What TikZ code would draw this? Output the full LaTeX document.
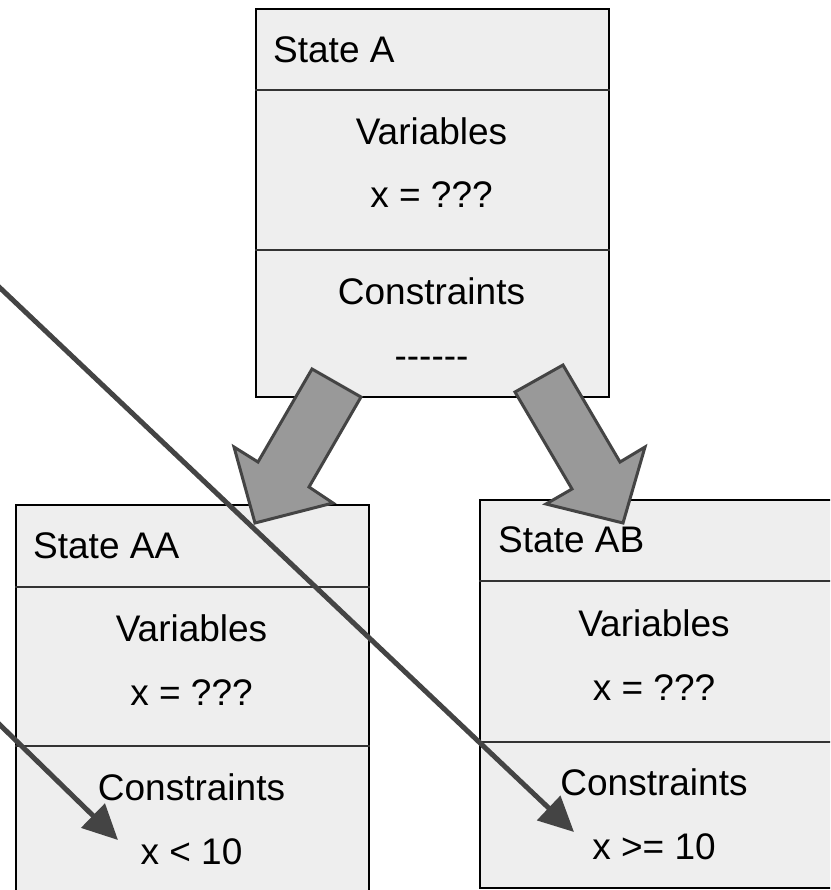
\documentclass[tikz,border=0pt]{standalone}
\usepackage{fontspec}
\setmainfont{Liberation Sans}[Ligatures=TeXOff]
\usetikzlibrary{arrows.meta}
\definecolor{boxfill}{HTML}{EEEEEE}
\definecolor{arrowfill}{HTML}{999999}
\definecolor{darkline}{HTML}{444444}
\definecolor{divline}{HTML}{333333}
\begin{document}
\begin{tikzpicture}[x=1pt,y=-1pt,
  statebox/.style={draw=black, line width=2pt, fill=boxfill, anchor=north west,
    minimum width=353pt, minimum height=388pt, inner sep=0pt},
  divider/.style={draw=divline, line width=2pt},
  lbl/.style={font=\fontsize{37pt}{44pt}\selectfont, inner sep=0pt, text=black},
  bigarrow/.style={draw=darkline, fill=arrowfill, line width=3pt, line join=miter},
  pointer/.style={draw=darkline, line width=5pt,
    -{Triangle[length=35pt,width=33pt]}, darkline}]
\useasboundingbox (0,0) rectangle (830,890);
\clip (0,0) rectangle (830,890);

% State A
\node[statebox] (A) at (255,8) {};
\draw[divider] ([yshift=-82pt]A.north west) -- ([yshift=-82pt]A.north east);
\draw[divider] ([yshift=-242pt]A.north west) -- ([yshift=-242pt]A.north east);
\node[lbl, anchor=base west] (At) at (273,63) {State A};
\node[lbl, anchor=base] (Av) at (431.5,145) {Variables};
\node[lbl, anchor=base] (Ax) at (431.5,208) {x = ???};
\node[lbl, anchor=base] (Ac) at (431.5,304) {Constraints};
\node[lbl, anchor=base] (Ak) at (431.5,368) {------};

% State AA
\node[statebox] (AA) at (15,504) {};
\draw[divider] ([yshift=-83pt]AA.north west) -- ([yshift=-83pt]AA.north east);
\draw[divider] ([yshift=-242pt]AA.north west) -- ([yshift=-242pt]AA.north east);
\node[lbl, anchor=base west] (AAt) at (33,558) {State AA};
\node[lbl, anchor=base] (AAv) at (191.5,641) {Variables};
\node[lbl, anchor=base] (AAx) at (191.5,705) {x = ???};
\node[lbl, anchor=base] (AAc) at (191.5,800) {Constraints};
\node[lbl, anchor=base] (AAk) at (191.5,864) {x < 10};

% State AB
\node[statebox] (AB) at (479,499) {};
\draw[divider] ([yshift=-82pt]AB.north west) -- ([yshift=-82pt]AB.north east);
\draw[divider] ([yshift=-243pt]AB.north west) -- ([yshift=-243pt]AB.north east);
\node[lbl, anchor=base west] (ABt) at (498,552) {State AB};
\node[lbl, anchor=base] (ABv) at (654,636) {Variables};
\node[lbl, anchor=base] (ABx) at (654,700) {x = ???};
\node[lbl, anchor=base] (ABc) at (654,795) {Constraints};
\node[lbl, anchor=base] (ABk) at (654,859) {x >= 10};

% thick arrows
\draw[bigarrow] (312,369) -- (361,397) -- (309,487) -- (333,503) -- (255,523) -- (234,447) -- (258,462) -- cycle;
\draw[bigarrow] (515,392) -- (563,365) -- (620,462) -- (645,447) -- (623,523) -- (546,504) -- (572,489) -- cycle;

% thin pointers
\coordinate (p1s) at (-3,285);
\coordinate (p1e) at (574,832);
\coordinate (p2s) at (-3,722);
\coordinate (p2e) at (118,840);
\draw[pointer] (p1s) -- (p1e);
\draw[pointer] (p2s) -- (p2e);
\end{tikzpicture}
\end{document}
